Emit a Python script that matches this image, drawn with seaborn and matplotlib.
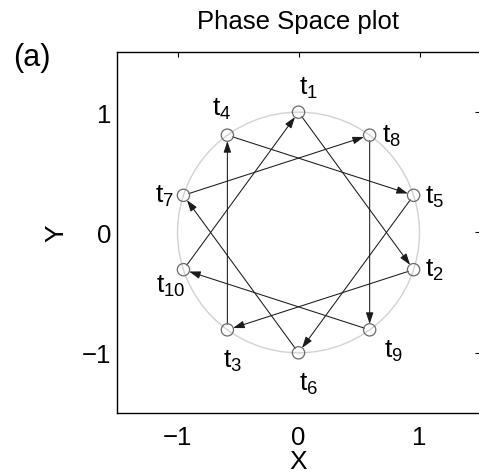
import matplotlib
matplotlib.use("Agg")
import matplotlib.pyplot as plt
from matplotlib.patches import Circle
import pandas as pd
import seaborn as sns

# States visited in order t1 .. t10 on the unit circle (the orbit closes back on t1)
state_labels = ["t1", "t2", "t3", "t4", "t5", "t6", "t7", "t8", "t9", "t10"]
x_vals = [0.0, 0.951, -0.588, -0.588, 0.951, 0.0, -0.951, 0.588, 0.588, -0.951]
y_vals = [1.0, -0.309, -0.809, 0.809, 0.309, -1.0, 0.309, 0.809, -0.809, -0.309]
x_ticks = [-1, 0, 1]
y_ticks = [-1, 0, 1]

# Label placement relative to each state marker (points)
label_offsets = [(7, 18), (15, 0), (4, -22), (-4, 19), (15, -1),
                 (7, -22), (-14, 0), (16, 0), (17, -15), (-9, -11)]

sns.set_theme(style="white")
plt.rcParams["font.family"] = ["Liberation Sans", "DejaVu Sans"]
plt.rcParams["mathtext.fontset"] = "custom"
plt.rcParams["mathtext.rm"] = "Liberation Sans"
plt.rcParams["mathtext.it"] = "Liberation Sans"
plt.rcParams["text.color"] = "black"
plt.rcParams["axes.labelcolor"] = "black"

df = pd.DataFrame({"X": x_vals, "Y": y_vals, "state": state_labels})

fig = plt.figure(figsize=(4.79, 4.77), dpi=100)
ax = fig.add_axes([0.2443, 0.1321, 0.7578, 0.7568])

# reference unit circle
ax.add_patch(Circle((0, 0), 1.0, fill=False, ec="#d2d2d2", lw=1.0, zorder=1))

# transitions t_i -> t_(i+1), wrapping t10 -> t1
n = len(df)
for i in range(n):
    j = (i + 1) % n
    ax.annotate("", xy=(df.X[j], df.Y[j]), xytext=(df.X[i], df.Y[i]),
                arrowprops=dict(arrowstyle="-|>,head_length=0.75,head_width=0.25",
                                color="#1a1a1a", lw=0.75, shrinkA=4, shrinkB=4.3,
                                mutation_scale=9),
                zorder=2)

sns.scatterplot(data=df, x="X", y="Y", ax=ax, marker="o", s=78,
                facecolors="none", edgecolor="#6a6a6a", linewidth=0.9,
                zorder=3, legend=False)

for (lab, xv, yv), (dx, dy) in zip(zip(df.state, df.X, df.Y), label_offsets):
    ax.annotate(r"$\mathrm{t}_{%s}$" % lab[1:], xy=(xv, yv), xytext=(dx, dy),
                textcoords="offset points", ha="center", va="center",
                fontsize=19, color="black")

ax.set_xlim(-1.5, 1.5)
ax.set_ylim(-1.5, 1.5)
ax.set_xticks(x_ticks)
ax.set_yticks(y_ticks)
ax.set_xticklabels(["\u22121", "0", "1"])
ax.set_yticklabels(["\u22121", "0", "1"])
ax.tick_params(axis="both", direction="in", length=3.5, width=0.8,
               labelsize=18.5, colors="black", top=True, right=True)
ax.tick_params(axis="x", pad=9)
ax.tick_params(axis="y", pad=4)
for sp in ax.spines.values():
    sp.set_color("black")
    sp.set_linewidth(1.0)

ax.set_xlabel("X", fontsize=19, labelpad=0)
ax.set_ylabel("Y", fontsize=19, labelpad=10)

fig.text(298 / 479, 1 - 22 / 477, "Phase Space plot", ha="center", va="center",
         fontsize=18.5)
fig.text(32 / 479, 1 - 58 / 477, "(a)", ha="center", va="center", fontsize=22)

fig.savefig("out.png", dpi=100)
